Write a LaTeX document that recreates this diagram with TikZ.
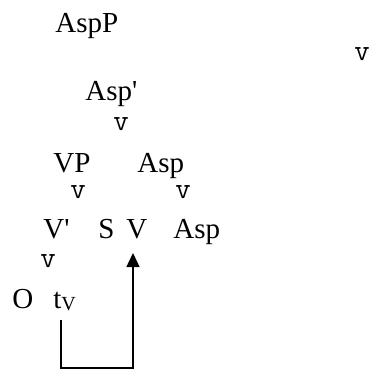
\documentclass[tikz,border=0pt]{standalone}
\usepackage{fontspec}
\setmainfont{Liberation Serif}
\usepackage{tikz}
\usetikzlibrary{arrows.meta}

\newcommand{\barmark}{\textquotesingle}

\tikzset{
	lbl/.style={inner sep=0pt, anchor=base west, font=\fontsize{14.5}{16}\selectfont},
	hd/.style={inner sep=0pt, anchor=base, font=\ttfamily\fontsize{15}{16}\selectfont},
	move/.style={line width=0.75pt, -{Triangle[width=6.5pt,length=7pt]}}
}

\begin{document}
\begin{tikzpicture}[x=0.5pt, y=-0.5pt]
	\useasboundingbox (0,0) rectangle (371,371);
	% labels of the tree
	\node[lbl] (aspP) at (55,32) {AspP};
	\node[hd] (vA) at (362,60) {v};
	\node[lbl] (aspbar) at (85,100) {Asp\barmark};
	\node[hd] (vB) at (121,130) {v};
	\node[lbl] (vp) at (53,172) {VP};
	\node[lbl] (aspA) at (137,172) {Asp};
	\node[hd] (vC) at (78,198) {v};
	\node[hd] (vD) at (183,198) {v};
	\node[lbl] (vbar) at (43,238) {V\barmark};
	\node[lbl] (s) at (98,238) {S};
	\node[lbl] (v) at (126,238) {V};
	\node[lbl] (aspB) at (173,238) {Asp};
	\node[hd] (vE) at (48,267) {v};
	\node[lbl] (o) at (12,308) {O};
	\node[lbl] (tv) at (53,308) {t\raisebox{-1pt}{\fontsize{10}{10}\selectfont V}};
	% head movement
	\coordinate (tvfoot) at (61,320);
	\coordinate (vfoot) at (133,253);
	\draw[move] (tvfoot) |- (133,368) -- (vfoot);
\end{tikzpicture}
\end{document}
